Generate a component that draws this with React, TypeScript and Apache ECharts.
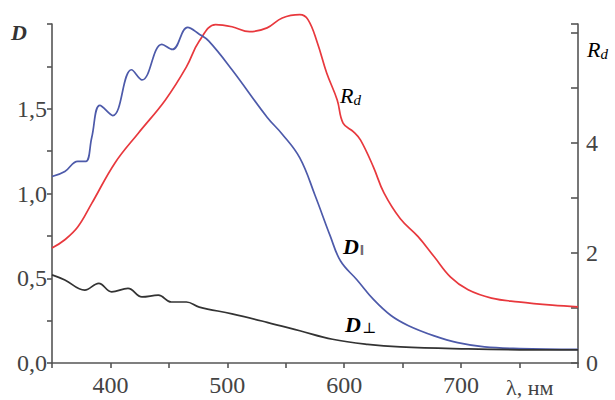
import React, { useEffect, useRef } from "react";
import * as echarts from "echarts";

// D-parallel (blue), left axis
const dParWl = [350, 361, 372, 379, 384, 391, 402, 418, 427, 444, 453, 466, 476, 484, 504, 534, 547, 562, 575, 588, 597, 611, 625, 640, 655, 677, 697, 720, 750, 800];
const dParVal = [1.10, 1.13, 1.19, 1.19, 1.33, 1.52, 1.46, 1.73, 1.67, 1.88, 1.85, 1.98, 1.94, 1.90, 1.73, 1.45, 1.35, 1.21, 0.99, 0.75, 0.60, 0.49, 0.375, 0.28, 0.22, 0.16, 0.12, 0.095, 0.085, 0.08];

// D-perpendicular (black), left axis
const dPerpWl = [350, 361, 378, 390, 401, 415, 427, 441, 452, 465, 476, 504, 534, 562, 590, 620, 648, 706, 750, 800];
const dPerpVal = [0.52, 0.49, 0.43, 0.47, 0.42, 0.44, 0.39, 0.40, 0.36, 0.36, 0.33, 0.29, 0.24, 0.19, 0.14, 0.11, 0.095, 0.083, 0.078, 0.077];

// Rd (red), right axis
const rdWl = [350, 361, 372, 384, 404, 424, 447, 465, 476, 490, 504, 519, 534, 547, 562, 569, 577, 585, 594, 599, 608, 614, 625, 634, 648, 663, 677, 691, 706, 726, 749, 778, 800];
const rdVal = [2.09, 2.24, 2.47, 2.9, 3.64, 4.18, 4.78, 5.38, 5.85, 6.15, 6.11, 6.02, 6.09, 6.27, 6.33, 6.24, 5.82, 5.27, 4.78, 4.36, 4.2, 4.05, 3.56, 3.09, 2.62, 2.3, 1.93, 1.56, 1.33, 1.18, 1.11, 1.05, 1.02];

const xLabels = [400, 500, 600, 700];
const leftLabels = [0, 0.5, 1.0, 1.5];
const rightLabels = [0, 2, 4];

const zip = (a: number[], b: number[]) => a.map((v, i) => [v, b[i]]);

const SERIF = "'Liberation Serif', 'DejaVu Serif', serif";
const AX = "#555";

export default function App() {
  const ref = useRef<HTMLDivElement>(null);
  useEffect(() => {
    document.body.style.margin = "0";
    if (!ref.current) return;
    const chart = echarts.init(ref.current, undefined, { renderer: "svg" });
    const labelStyle = { fontFamily: SERIF, fontSize: 24, color: "#444" };
    const richR = {
      a: { fontFamily: SERIF, fontStyle: "italic", fontSize: 22, color: "#333" },
      b: { fontFamily: SERIF, fontStyle: "italic", fontSize: 15, color: "#333", padding: [9, 0, 0, 0] },
    };
    chart.setOption({
      animation: false,
      backgroundColor: "#fff",
      grid: { left: 52, right: 37, top: 24, bottom: 37 },
      xAxis: {
        type: "value",
        min: 350,
        max: 800,
        interval: 50,
        splitLine: { show: false },
        axisLine: { lineStyle: { color: AX, width: 1.6 } },
        axisTick: { length: 5, lineStyle: { color: AX, width: 1.6 } },
        axisLabel: {
          ...labelStyle,
          margin: 10,
          formatter: (v: number) => (xLabels.includes(v) ? String(v) : ""),
        },
      },
      yAxis: [
        {
          type: "value",
          min: 0,
          max: 2,
          interval: 0.25,
          splitLine: { show: false },
          axisLine: { show: true, lineStyle: { color: AX, width: 1.6 } },
          axisTick: { show: true, length: 5, lineStyle: { color: AX, width: 1.6 } },
          axisLabel: {
            ...labelStyle,
            margin: 5,
            formatter: (v: number) =>
              leftLabels.some((l) => Math.abs(l - v) < 1e-6) ? v.toFixed(1).replace(".", ",") : "",
          },
        },
        {
          type: "value",
          position: "right",
          min: 0,
          max: 6.16,
          interval: 1,
          splitLine: { show: false },
          axisLine: { show: true, lineStyle: { color: AX, width: 1.6 } },
          axisTick: { show: true, inside: true, length: 7, lineStyle: { color: AX, width: 1.6 } },
          axisLabel: {
            ...labelStyle,
            margin: 8,
            formatter: (v: number) => (rightLabels.includes(v) ? String(v) : ""),
          },
        },
      ],
      series: [
        {
          type: "line",
          name: "Rd",
          yAxisIndex: 1,
          data: zip(rdWl, rdVal),
          smooth: 0.4,
          showSymbol: false,
          clip: false,
          lineStyle: { color: "#e8383d", width: 1.7 },
          z: 3,
        },
        {
          type: "line",
          name: "D∥",
          yAxisIndex: 0,
          data: zip(dParWl, dParVal),
          smooth: 0.4,
          showSymbol: false,
          lineStyle: { color: "#4d5aaa", width: 1.7 },
          z: 4,
        },
        {
          type: "line",
          name: "D⊥",
          yAxisIndex: 0,
          data: zip(dPerpWl, dPerpVal),
          smooth: 0.4,
          showSymbol: false,
          lineStyle: { color: "#333333", width: 1.7 },
          z: 5,
        },
      ],
      graphic: [
        {
          type: "text",
          left: 11,
          top: 21,
          style: { text: "D", font: `italic bold 22px ${SERIF}`, fill: "#333" },
        },
        {
          type: "text",
          left: 587,
          top: 38,
          style: { text: "{a|R}{b|d}", rich: richR },
        },
        {
          type: "text",
          left: 340,
          top: 84,
          style: { text: "{a|R}{b|d}", rich: richR },
        },
        {
          type: "text",
          left: 343,
          top: 235,
          style: {
            text: "{a|D}{b|‖}",
            rich: {
              a: { fontFamily: SERIF, fontStyle: "italic", fontWeight: "bold", fontSize: 22, color: "#333" },
              b: { fontFamily: SERIF, fontSize: 14, color: "#999", padding: [9, 0, 0, 1] },
            },
          },
        },
        {
          type: "text",
          left: 345,
          top: 313,
          style: {
            text: "{a|D}{b|⊥}",
            rich: {
              a: { fontFamily: SERIF, fontStyle: "italic", fontWeight: "bold", fontSize: 22, color: "#333" },
              b: { fontFamily: SERIF, fontSize: 15, color: "#333", padding: [7, 0, 0, 1] },
            },
          },
        },
        {
          type: "text",
          left: 506,
          top: 376,
          style: { text: "λ, нм", font: `22px ${SERIF}`, fill: "#444" },
        },
      ],
    });
    return () => chart.dispose();
  }, []);
  return <div ref={ref} style={{ width: 615, height: 400 }} />;
}
